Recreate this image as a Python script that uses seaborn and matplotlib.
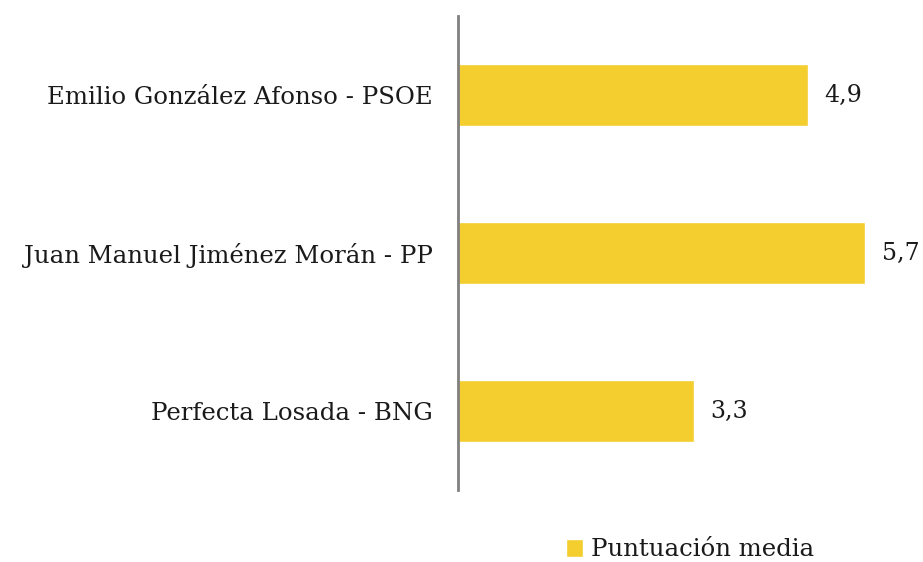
import matplotlib
matplotlib.use("Agg")
import matplotlib.pyplot as plt
import pandas as pd
import seaborn as sns

# Data
candidatos = ["Emilio González Afonso - PSOE",
              "Juan Manuel Jiménez Morán - PP",
              "Perfecta Losada - BNG"]
puntuacion = [4.9, 5.7, 3.3]
serie = "Puntuación media"
color = "#F4CD2E"

df = pd.DataFrame({"candidato": candidatos, "valor": puntuacion})

sns.set_style("white")
plt.rcParams['font.family'] = ['DejaVu Serif']

fig = plt.figure(figsize=(9.23, 5.62), dpi=100)
ax = fig.add_axes([0.496, 0.128, 0.503, 0.8435])

sns.barplot(data=df, x="valor", y="candidato", color=color, width=0.39,
            ax=ax, label=serie, saturation=1)

for c in ax.containers:
    ax.bar_label(c, labels=[f"{v:.1f}".replace(".", ",") for v in puntuacion],
                 padding=12, fontsize=17, color="#1a1a1a")

ax.set_xlim(0, 6.5)
ax.set_ylim(2.5, -0.5)
ax.set_xlabel("")
ax.set_ylabel("")
ax.set_xticks([])
ax.tick_params(axis="y", length=0, pad=18, labelsize=17.6, labelcolor="#1a1a1a")
for s in ["top", "right", "bottom"]:
    ax.spines[s].set_visible(False)
ax.spines["left"].set_color("#808080")
ax.spines["left"].set_linewidth(2)

ax.legend(loc="center", bbox_to_anchor=(690 / 923, 1 - 550 / 562),
          bbox_transform=fig.transFigure, frameon=False, fontsize=17.6,
          handlelength=0.7, handleheight=0.7, handletextpad=0.3)
for t in ax.get_legend().get_texts():
    t.set_color("#1a1a1a")

fig.savefig("out.png", dpi=100)
